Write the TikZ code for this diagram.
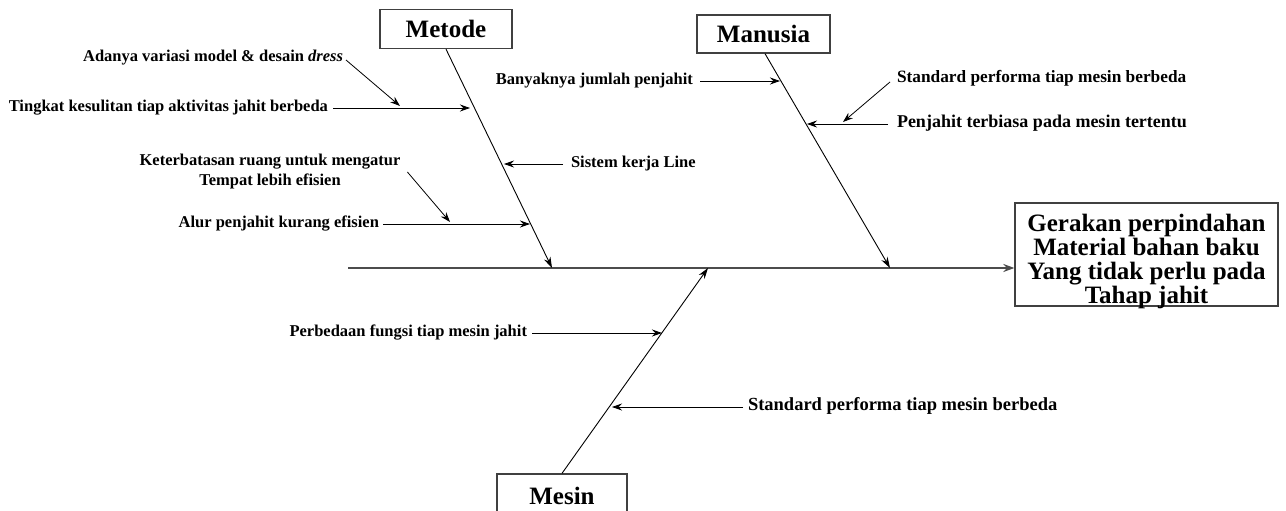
\documentclass[tikz,border=0pt]{standalone}
\usepackage{fontspec}
\setmainfont{Liberation Serif}
\usetikzlibrary{arrows.meta}
\begin{document}
\begin{tikzpicture}[x=1pt,y=-1pt,
  lbl/.style={font=\bfseries\fontsize{16.5}{20}\selectfont, inner sep=0pt, outer sep=0pt,
              text height=10pt, text depth=3pt},
  cat/.style={draw=black!75, line width=1.3pt, font=\bfseries\fontsize{25}{27}\selectfont,
              inner sep=0pt, minimum width=132pt, minimum height=39pt},
  arr/.style={-{Stealth[length=10pt,width=7pt]}, line width=0.8pt},
  bone/.style={-{Stealth[length=11pt,width=7pt]}, line width=0.9pt},
  spine/.style={-{Stealth[length=11pt,width=8pt]}, line width=2pt, draw=black!70}]
\useasboundingbox (0,0) rectangle (1286,511);
\fill[white] (0,0) rectangle (1286,511);

% category boxes and the effect box
\node[cat] (metode)  at (446,29)  {Metode};
\node[cat, minimum width=133pt, minimum height=38pt] (manusia) at (763.5,34) {Manusia};
\node[cat, minimum width=130pt, minimum height=44pt] (mesin) at (562,496) {Mesin};
\node[cat, minimum width=263pt, minimum height=103pt] (effect) at (1146.5,254.5) {};
\node[align=center, inner sep=0pt, font=\bfseries\fontsize{25}{24}\selectfont]
      (effectText) at ([yshift=-7pt]effect.center)
      {Gerakan perpindahan\\Material bahan baku\\Yang tidak perlu pada\\Tahap jahit};

% main spine
\coordinate (tail) at (348,268);
\draw[spine] (tail) -- (tail -| effect.west);

% bone ends on the spine
\coordinate (mEnd) at (552,268);
\coordinate (uEnd) at (890,268);
\coordinate (sEnd) at (708,268);
\draw[bone] (metode.south) -- (mEnd);
\draw[bone] (manusia.south -| 765,0) -- (uEnd);
\draw[bone] (mesin.north) -- (sEnd);

% causes: Metode
\node[lbl, anchor=east] (adanya) at (343,58) {Adanya variasi model \& desain \textit{dress}};
\node[lbl, anchor=east] (tingkat) at (328,108) {Tingkat kesulitan tiap aktivitas jahit berbeda};
\node[lbl, align=center, text height=, text depth=] (keter) at (270,172)
      {Keterbatasan ruang untuk mengatur\\Tempat lebih efisien};
\node[lbl, anchor=east] (alur) at (379,224) {Alur penjahit kurang efisien};
\node[lbl, anchor=west] (sistem) at (571,164) {Sistem kerja Line};

\coordinate (tTip) at (470,108);
\coordinate (aTip) at (400,106);
\coordinate (kTip) at (450,222);
\coordinate (alTip) at (530,224);
\coordinate (sTip) at (504,164);
\draw[arr] ([xshift=5pt]tingkat.east) -- (tTip);
\draw[arr] ([xshift=3pt,yshift=-2pt]adanya.east) -- (aTip);
\draw[arr] ([xshift=7pt]keter.east) -- (kTip);
\draw[arr] ([xshift=4pt]alur.east) -- (alTip);
\draw[arr] ([xshift=-8pt]sistem.west) -- (sTip);

% causes: Manusia
\node[lbl, anchor=east] (banyak) at (693,81) {Banyaknya jumlah penjahit};
\node[lbl, anchor=west, font=\bfseries\fontsize{17.3}{20}\selectfont] (std1) at (897,79)
      {Standard performa tiap mesin berbeda};
\node[lbl, anchor=west, font=\bfseries\fontsize{18}{20}\selectfont] (terbiasa) at (897,124)
      {Penjahit terbiasa pada mesin tertentu};

\coordinate (bTip) at (780,81);
\coordinate (s1Tip) at (843,122);
\coordinate (pTip) at (807,124);
\draw[arr] ([xshift=7pt]banyak.east) -- (bTip);
\draw[arr] ([xshift=-7pt,yshift=-3pt]std1.west) -- (s1Tip);
\draw[arr] ([xshift=-9pt]terbiasa.west) -- (pTip);

% causes: Mesin
\node[lbl, anchor=east] (beda) at (527,333) {Perbedaan fungsi tiap mesin jahit};
\node[lbl, anchor=west, font=\bfseries\fontsize{18.5}{20}\selectfont] (std2) at (748,407)
      {Standard performa tiap mesin berbeda};

\coordinate (fTip) at (662,333);
\coordinate (s2Tip) at (612,407);
\draw[arr] ([xshift=5pt]beda.east) -- (fTip);
\draw[arr] ([xshift=-5pt]std2.west) -- (s2Tip);
\end{tikzpicture}
\end{document}
